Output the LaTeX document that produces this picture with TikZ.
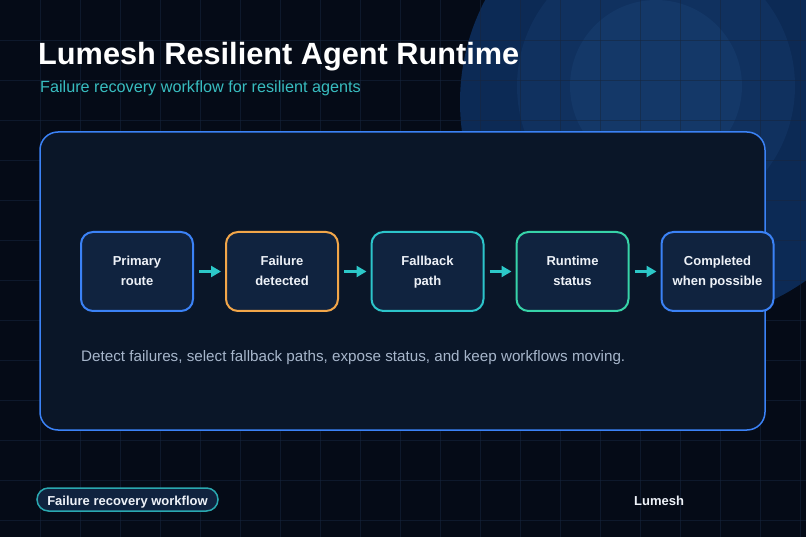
\documentclass[tikz,border=0pt]{standalone}
\usepackage{fontspec}
\setmainfont{Liberation Sans}
\usetikzlibrary{arrows.meta}
\definecolor{bgc}{HTML}{050B17}
\definecolor{cone}{HTML}{0C2A55}
\definecolor{ctwo}{HTML}{10315F}
\definecolor{cthree}{HTML}{143868}
\definecolor{gridc}{HTML}{17263E}
\definecolor{panelfill}{HTML}{0A1628}
\definecolor{panelline}{HTML}{3B82F6}
\definecolor{boxfill}{HTML}{10233F}
\definecolor{boxtext}{HTML}{EEF2F8}
\definecolor{blueb}{HTML}{3B82F6}
\definecolor{orangeb}{HTML}{F2A649}
\definecolor{cyanb}{HTML}{2CC4CA}
\definecolor{mintb}{HTML}{37D3A8}
\definecolor{arrowc}{HTML}{2CC8C8}
\definecolor{subc}{HTML}{38BDC0}
\definecolor{descc}{HTML}{A7B6CB}
\definecolor{pillline}{HTML}{2AA8B0}
\begin{document}
\begin{tikzpicture}[x=1pt,y=-1pt,
  stepbox/.style={draw, line width=2pt, fill=boxfill, rounded corners=12pt,
    minimum width=112pt, minimum height=79pt, inner sep=0pt, align=center,
    text=boxtext, font=\fontsize{13}{20}\selectfont\bfseries},
  flow/.style={draw=arrowc, line width=3pt, -{Triangle[length=10pt,width=11pt]},
    shorten <=5pt, shorten >=4pt},
  gridline/.style={draw=gridc, line width=0.8pt, draw opacity=0.55}]
\useasboundingbox (0,0) rectangle (806,537);
\clip (0,0) rectangle (806,537);
\fill[bgc] (0,0) rectangle (806,537);
\fill[cone] (679,102) circle (219pt);
\fill[ctwo] (656,86) circle (139pt);
\fill[cthree] (656,86) circle (86pt);
\foreach \x in {40,80,...,800} \draw[gridline] (\x,0) -- (\x,537);
\foreach \y in {40,80,...,520} \draw[gridline] (0,\y) -- (806,\y);

\node[anchor=base west, inner sep=0pt, text=white, font=\fontsize{30.7}{37}\selectfont\bfseries] (title) at (38,65) {Lumesh Resilient Agent Runtime};
\node[anchor=base west, inner sep=0pt, text=subc, font=\fontsize{16.2}{19}\selectfont] (subtitle) at (40,93) {Failure recovery workflow for resilient agents};

\node[draw=panelline, line width=1.5pt, fill=panelfill, rounded corners=18pt,
  minimum width=725pt, minimum height=298pt, inner sep=0pt] (panel) at (402.5,281) {};

\node[stepbox, draw=blueb] (s1) at (137,271.5) {Primary\strut\\route\strut};
\node[stepbox, draw=orangeb] (s2) at (282,271.5) {Failure\strut\\detected\strut};
\node[stepbox, draw=cyanb] (s3) at (427.5,271.5) {Fallback\strut\\path\strut};
\node[stepbox, draw=mintb] (s4) at (572.5,271.5) {Runtime\strut\\status\strut};
\node[stepbox, draw=blueb] (s5) at (717.5,271.5) {Completed\strut\\when possible\strut};

\draw[flow] (s1) -- (s2);
\draw[flow] (s2) -- (s3);
\draw[flow] (s3) -- (s4);
\draw[flow] (s4) -- (s5);

\node[anchor=base west, inner sep=0pt, text=descc, font=\fontsize{15.2}{18}\selectfont] (desc) at (81,361) {Detect failures, select fallback paths, expose status, and keep workflows moving.};

\node[draw=pillline, line width=1.5pt, fill=boxfill, rounded corners=11.5pt,
  minimum width=181pt, minimum height=23pt, inner sep=0pt] (pill) at (127.5,499.5) {};
\node[anchor=base, inner sep=0pt, text=boxtext, font=\fontsize{13}{16}\selectfont\bfseries] (pilltext) at (127.5,505.5) {Failure recovery workflow};
\node[anchor=base west, inner sep=0pt, text=boxtext, font=\fontsize{13}{16}\selectfont\bfseries] (brand) at (634,505) {Lumesh};
\end{tikzpicture}
\end{document}
